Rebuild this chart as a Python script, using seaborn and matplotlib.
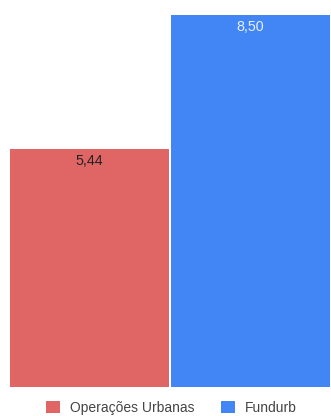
import matplotlib
matplotlib.use("Agg")
import matplotlib.pyplot as plt
from matplotlib.patches import Patch
import seaborn as sns
import pandas as pd

series = ["Operações Urbanas", "Fundurb"]
values = [5.44, 8.50]
colors = ["#E06666", "#4285F4"]
label_colors = ["#222222", "#E8EEFB"]

sns.set_theme(style="white")
plt.rcParams["font.family"] = ["Liberation Sans", "DejaVu Sans"]

W, H = 331, 416
fig = plt.figure(figsize=(W / 100, H / 100), dpi=100)
ax = fig.add_axes([9 / W, 1 - 387 / H, 322 / W, 387 / H])

df = pd.DataFrame({"serie": series, "valor": values})
sns.barplot(data=df, x="serie", y="valor", hue="serie", palette=colors,
            width=0.985, ax=ax, legend=False, saturation=1, linewidth=0)

ax.set_xlim(-0.5, 1.5)
ax.set_ylim(0, 387 / (372 / 8.50))
ax.set_axis_off()

px_per_unit = 372 / 8.50
for i, (v, lc) in enumerate(zip(values, label_colors)):
    ax.text(i, v - 12 / px_per_unit, f"{v:.2f}".replace(".", ","),
            ha="center", va="center", fontsize=10.3, color=lc)

handles = [Patch(facecolor=c, edgecolor="none", label=s) for s, c in zip(series, colors)]
fig.legend(handles=handles, loc="center", bbox_to_anchor=(171.5 / W, 1 - 408 / H),
           ncol=2, frameon=False, fontsize=10, handlelength=1.0, handleheight=1.0,
           handletextpad=0.75, columnspacing=1.9, labelcolor="#444444")

fig.savefig("out.png", dpi=100, facecolor="white")
